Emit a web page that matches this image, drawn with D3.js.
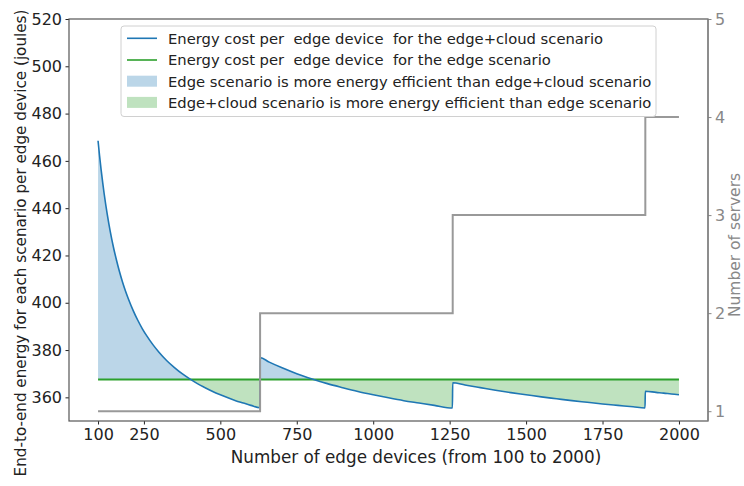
<!DOCTYPE html>
<html>
<head>
<meta charset="utf-8">
<script src="https://cdn.jsdelivr.net/npm/d3@7/dist/d3.min.js"></script>
<style>
  html, body { margin: 0; padding: 0; background: #fff; }
  svg { display: block; font-family: "DejaVu Sans", sans-serif; }
  text { white-space: pre; }
</style>
</head>
<body>
<svg id="chart" width="744" height="486"></svg>
<script>
// Number of edge devices sampled along the x axis
const deviceCounts = [
  100, 105, 110, 115, 120, 130, 140, 150, 160, 170, 180, 190, 200, 215, 230, 245,
  260, 280, 300, 325, 350, 375, 400, 425, 450, 475, 500, 525, 550, 575, 600, 629,
  630, 660, 700, 750, 800, 850, 900, 950, 1000, 1050, 1100, 1150, 1200, 1259,
  1260, 1300, 1350, 1400, 1450, 1500, 1550, 1600, 1650, 1700, 1750, 1800, 1850, 1889,
  1890, 1925, 1950, 1975, 2000
];
// Energy per edge device (joules) in the edge+cloud scenario
const edgeCloudJoules = [
  468.5, 462.1, 456.3, 451.0, 446.1, 437.5, 430.1, 423.7, 418.2, 413.2, 408.8, 404.9, 401.4, 396.7, 392.6, 389.0,
  385.9, 382.2, 379.0, 375.5, 372.6, 370.0, 367.8, 365.8, 364.1, 362.5, 361.1, 359.8, 358.6, 357.6, 356.6, 355.6,
  376.8, 374.9, 372.6, 370.0, 367.8, 365.8, 364.1, 362.5, 361.1, 359.8, 358.6, 357.6, 356.6, 355.5,
  366.2, 365.2, 364.1, 363.0, 362.0, 361.1, 360.2, 359.4, 358.6, 357.9, 357.2, 356.6, 356.0, 355.5,
  362.6, 362.1, 361.8, 361.4, 361.1
];
// Energy per edge device (joules) in the edge-only scenario (flat)
const edgeOnlyDevices = [100, 2000];
const edgeOnlyJoules = [367.5, 367.5];
// Number of servers in use, as a step function of edge devices
const serverStepDevices = [100, 630, 1260, 1890, 2000];
const serverCounts = [1, 2, 3, 4, 4];

// Tick values
const xTicks = [100, 250, 500, 750, 1000, 1250, 1500, 1750, 2000];
const yTicks = [360, 380, 400, 420, 440, 460, 480, 500, 520];
const y2Ticks = [1, 2, 3, 4, 5];

const legendLabels = [
  "Energy cost per  edge device  for the edge+cloud scenario",
  "Energy cost per  edge device  for the edge scenario",
  "Edge scenario is more energy efficient than edge+cloud scenario",
  "Edge+cloud scenario is more energy efficient than edge scenario"
];

const C_BLUE = "#1f77b4", C_GREEN = "#2ca02c", C_GREY = "#999999";
const SPINE = "#555555";

const plotL = 69, plotR = 708, plotT = 19, plotB = 421;

const svg = d3.select("#chart");

const x = d3.scaleLinear().domain([5, 2095]).range([plotL, plotR]);
const y = d3.scaleLinear().domain([350, 520]).range([plotB, plotT]);
const y2 = d3.scaleLinear().domain([0.9, 5]).range([plotB, plotT]);

const pts = deviceCounts.map((d, i) => ({ n: d, e: edgeCloudJoules[i] }));
const edgeLevel = edgeOnlyJoules[0];
const yEdge = y(edgeLevel);

// clip regions above / below the edge-only line
const defs = svg.append("defs");
defs.append("clipPath").attr("id", "above")
  .append("rect").attr("x", plotL).attr("y", plotT).attr("width", plotR - plotL).attr("height", yEdge - plotT);
defs.append("clipPath").attr("id", "below")
  .append("rect").attr("x", plotL).attr("y", yEdge).attr("width", plotR - plotL).attr("height", plotB - yEdge);

const area = d3.area()
  .x(d => x(d.n))
  .y0(yEdge)
  .y1(d => y(d.e))
  .curve(d3.curveMonotoneX);

svg.append("path").datum(pts)
  .attr("d", area)
  .attr("fill", C_BLUE).attr("fill-opacity", 0.3)
  .attr("clip-path", "url(#above)");
svg.append("path").datum(pts)
  .attr("d", area)
  .attr("fill", C_GREEN).attr("fill-opacity", 0.3)
  .attr("clip-path", "url(#below)");

// edge-only line
svg.append("path")
  .datum(edgeOnlyDevices.map((d, i) => ({ n: d, e: edgeOnlyJoules[i] })))
  .attr("d", d3.line().x(d => x(d.n)).y(d => y(d.e)))
  .attr("fill", "none").attr("stroke", C_GREEN).attr("stroke-width", 2);

// edge+cloud line
svg.append("path").datum(pts)
  .attr("d", d3.line().x(d => x(d.n)).y(d => y(d.e)).curve(d3.curveMonotoneX))
  .attr("fill", "none").attr("stroke", C_BLUE).attr("stroke-width", 1.6)
  .attr("stroke-linejoin", "round");

// servers step line
svg.append("path")
  .datum(serverStepDevices.map((d, i) => ({ n: d, s: serverCounts[i] })))
  .attr("d", d3.line().x(d => x(d.n)).y(d => y2(d.s)).curve(d3.curveStepAfter))
  .attr("fill", "none").attr("stroke", C_GREY).attr("stroke-width", 2);

// axes
function styleAxis(g, color) {
  g.select(".domain").remove();
  g.selectAll(".tick line").attr("stroke", color).attr("stroke-width", 1);
  g.selectAll(".tick text").attr("fill", color).attr("font-size", 16)
    .attr("font-family", "DejaVu Sans");
}
const intFmt = d3.format("d");

svg.append("g").attr("transform", `translate(0,${plotB})`)
  .call(d3.axisBottom(x).tickValues(xTicks).tickFormat(intFmt).tickSize(3.5).tickPadding(4))
  .call(g => styleAxis(g, "#222"));

svg.append("g").attr("transform", `translate(${plotL},0)`)
  .call(d3.axisLeft(y).tickValues(yTicks).tickFormat(intFmt).tickSize(3.5).tickPadding(3.5))
  .call(g => styleAxis(g, "#222"));

svg.append("g").attr("transform", `translate(${plotR},0)`)
  .call(d3.axisRight(y2).tickValues(y2Ticks).tickFormat(intFmt).tickSize(3.5).tickPadding(3.5))
  .call(g => styleAxis(g, "#888"));

// spines
svg.append("rect").attr("x", plotL).attr("y", plotT)
  .attr("width", plotR - plotL).attr("height", plotB - plotT)
  .attr("fill", "none").attr("stroke", SPINE).attr("stroke-width", 1.2);
svg.append("line").attr("x1", plotR).attr("x2", plotR).attr("y1", plotT).attr("y2", plotB)
  .attr("stroke", "#888").attr("stroke-width", 1.4);

// axis titles
svg.append("text").attr("x", 416).attr("y", 463)
  .attr("text-anchor", "middle").attr("font-size", 16.8).attr("fill", "#222")
  .text("Number of edge devices (from 100 to 2000)");

svg.append("text").attr("transform", "translate(26,243) rotate(-90)")
  .attr("text-anchor", "middle").attr("font-size", 15.2).attr("fill", "#222")
  .text("End-to-end energy for each scenario per edge device (joules)");

svg.append("text").attr("transform", "translate(740,245) rotate(-90)")
  .attr("text-anchor", "middle").attr("font-size", 15.5).attr("fill", "#888")
  .text("Number of servers");

// legend
const lg = svg.append("g");
lg.append("rect").attr("x", 121).attr("y", 26).attr("width", 535).attr("height", 90.5)
  .attr("rx", 3).attr("fill", "#fff").attr("fill-opacity", 0.85)
  .attr("stroke", "#d0d0d0").attr("stroke-width", 1);
const rowY = [38.3, 60, 81.2, 102.4];
const handles = [
  { type: "line", color: C_BLUE },
  { type: "line", color: C_GREEN },
  { type: "patch", color: C_BLUE },
  { type: "patch", color: C_GREEN }
];
handles.forEach((h, i) => {
  if (h.type === "line") {
    lg.append("line").attr("x1", 127).attr("x2", 157).attr("y1", rowY[i]).attr("y2", rowY[i])
      .attr("stroke", h.color).attr("stroke-width", 1.6);
  } else {
    lg.append("rect").attr("x", 127).attr("y", rowY[i] - 5.5).attr("width", 30).attr("height", 11)
      .attr("fill", h.color).attr("fill-opacity", 0.3);
  }
  lg.append("text").attr("x", 168).attr("y", rowY[i]).attr("dy", "0.36em")
    .attr("font-size", 14.75).attr("fill", "#222").text(legendLabels[i]);
});
</script>
</body>
</html>
